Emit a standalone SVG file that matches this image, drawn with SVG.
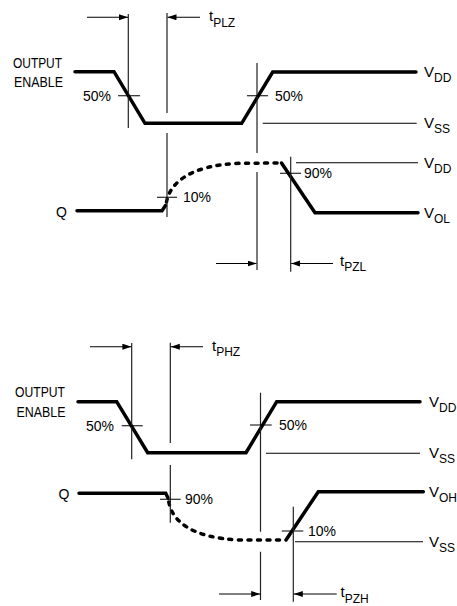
<svg xmlns="http://www.w3.org/2000/svg" width="457" height="606" viewBox="0 0 457 606">
<style>
.bg{fill:#fff}
.wave{fill:none;stroke:#000;stroke-width:3.5;stroke-linejoin:miter;stroke-linecap:round}
.dash{fill:none;stroke:#000;stroke-width:3.5;stroke-linecap:round;stroke-dasharray:3 6.5}
.thin{fill:none;stroke:#000;stroke-width:1.1}
.vline{fill:none;stroke:#222;stroke-width:1.2}
.arr{fill:none;stroke:#000;stroke-width:1.1;marker-end:url(#ah)}
text{font-family:"Liberation Sans",Arial,sans-serif;font-size:14px;fill:#000}
.v{font-size:15px}
.sub{font-size:12px}
</style>
<defs>
<marker id="ah" markerUnits="userSpaceOnUse" markerWidth="10" markerHeight="7" refX="9" refY="3" orient="auto">
<path d="M0,0 L9,3 L0,6 Z" fill="#000"/>
</marker>
</defs>
<rect class="bg" x="0" y="0" width="457" height="606"/>

<g id="top-output-enable">
<text x="13" y="68" textLength="49" lengthAdjust="spacingAndGlyphs">OUTPUT</text>
<text x="14" y="87" textLength="49" lengthAdjust="spacingAndGlyphs">ENABLE</text>
<path class="wave" d="M75,71.7 L114,71.7 L145,123.3 L241.7,123.3 L272.7,72 L416,72"/>
<path class="thin" d="M262.7,123.3 L416.7,123.3"/>
<text class="v" x="424" y="76.5">V<tspan class="sub" dy="5">DD</tspan></text>
<text class="v" x="424" y="128">V<tspan class="sub" dy="5">SS</tspan></text>
<text x="83" y="100.5">50%</text>
<text x="275" y="100.5">50%</text>
</g>

<g id="top-q">
<text x="56" y="217">Q</text>
<path class="wave" d="M77,210.7 L162,210.7 L165.5,205.5"/>
<path class="dash" d="M166.5,202 C170,183 190,165 240,163.3 L281.5,163"/>
<path class="wave" d="M281.5,163 L315,212.7 L418,212.7"/>
<path class="thin" d="M296,162.7 L418,162.7"/>
<text class="v" x="424" y="167.5">V<tspan class="sub" dy="5">DD</tspan></text>
<text class="v" x="424" y="217.5">V<tspan class="sub" dy="5">OL</tspan></text>
<text x="183" y="202">10%</text>
<text x="304" y="178">90%</text>
</g>

<g id="bottom-output-enable">
<text x="15" y="397" textLength="50" lengthAdjust="spacingAndGlyphs">OUTPUT</text>
<text x="16.5" y="417" textLength="49" lengthAdjust="spacingAndGlyphs">ENABLE</text>
<path class="wave" d="M78,401.7 L116.7,401.7 L147.7,452.7 L246,452.7 L276.7,401.7 L420,401.7"/>
<path class="thin" d="M266,453.3 L420,453.3"/>
<text class="v" x="429" y="406.5">V<tspan class="sub" dy="5">DD</tspan></text>
<text class="v" x="429" y="458">V<tspan class="sub" dy="5">SS</tspan></text>
<text x="86" y="430.5">50%</text>
<text x="279" y="430">50%</text>
</g>

<g id="bottom-q">
<text x="58.5" y="499">Q</text>
<path class="wave" d="M79,493.3 L165.7,493.3 L168,498"/>
<path class="dash" d="M168.8,502 C172,520 190,538 240,540 L286,540"/>
<path class="wave" d="M286,540 L318.3,491.7 L423.3,491.7"/>
<path class="thin" d="M295,541.7 L423,541.7"/>
<text class="v" x="429" y="496.5">V<tspan class="sub" dy="5">OH</tspan></text>
<text class="v" x="429" y="546.5">V<tspan class="sub" dy="5">SS</tspan></text>
<text x="185" y="504">90%</text>
<text x="308" y="536">10%</text>
</g>

<g id="connectors">
<path class="vline" d="M128.3,14 L128.3,128"/>
<path class="vline" d="M167,13 L167,113 M167,133 L167,217"/>
<path class="vline" d="M257,63 L257,153 M257,172 L257,270"/>
<path class="vline" d="M290.7,156.7 L290.7,271.7"/>
<path class="arr" d="M87,17.3 L128,17.3"/>
<path class="arr" d="M200,17.3 L167.5,17.3"/>
<path class="arr" d="M216,263.5 L256.5,263.5"/>
<path class="arr" d="M333,263.5 L291.2,263.5"/>
<text class="v" x="209" y="21">t<tspan class="sub" dy="5.5">PLZ</tspan></text>
<text class="v" x="340" y="265.5">t<tspan class="sub" dy="5.5">PZL</tspan></text>
<path class="thin" d="M118,95.7 L140,95.7 M247,95.7 L268,95.7 M157,197.3 L177,197.3 M280,173.3 L301,173.3"/>
<path class="vline" d="M131.7,343 L131.7,459.3"/>
<path class="vline" d="M170.3,342.7 L170.3,443 M170.3,465 L170.3,522.7"/>
<path class="vline" d="M260.5,392.7 L260.5,531.7 M260.5,551.7 L260.5,600"/>
<path class="vline" d="M293.3,506.7 L293.3,601.7"/>
<path class="arr" d="M90,346.7 L131.4,346.7"/>
<path class="arr" d="M203,346.7 L170.8,346.7"/>
<path class="arr" d="M219,594 L260.2,594"/>
<path class="arr" d="M336.7,594 L293.8,594"/>
<text class="v" x="212" y="350.5">t<tspan class="sub" dy="5.5">PHZ</tspan></text>
<text class="v" x="340.5" y="597">t<tspan class="sub" dy="5.5">PZH</tspan></text>
<path class="thin" d="M121.7,425.7 L142.7,425.7 M250,425 L271.7,425 M160,499.3 L180.7,499.3 M281.7,531 L303.3,531"/>
</g>
</svg>
